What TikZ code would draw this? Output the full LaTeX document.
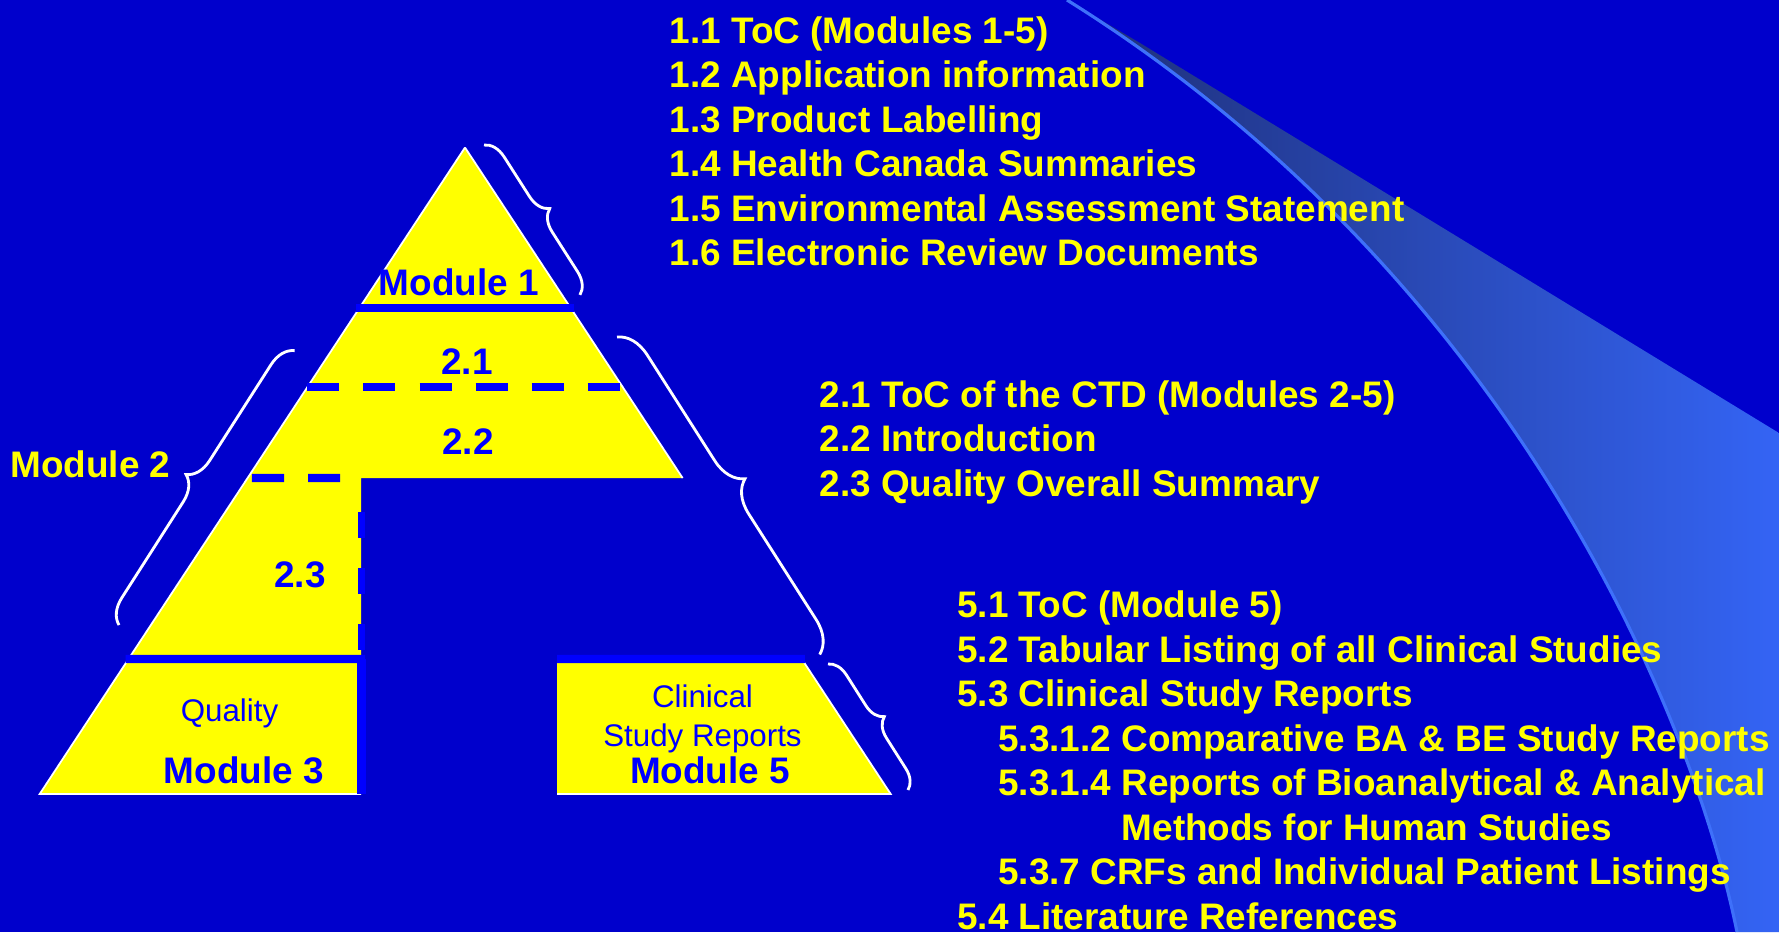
\documentclass[tikz,border=0pt]{standalone}
\usepackage{fontspec}
\setmainfont{Liberation Sans}
\usepackage{tikz}
\usetikzlibrary{calc, decorations.pathreplacing}
\definecolor{slideblue}{RGB}{0,0,204}
\definecolor{inkblue}{RGB}{0,0,255}
\definecolor{hiyellow}{RGB}{255,255,0}
\definecolor{swooshdark}{RGB}{30,46,118}
\definecolor{swooshlight}{RGB}{52,100,245}
\definecolor{swooshedge}{RGB}{62,112,250}
\tikzset{
  layer/.style={fill=hiyellow},
  rim/.style={draw=white, line width=0.5pt},
  divider/.style={draw=inkblue, line width=2.3pt},
  dashdivider/.style={draw=inkblue, line width=2.3pt,
    dash pattern=on 0.32cm off 0.24cm},
  modlabel/.style={text=inkblue, anchor=base, inner sep=0pt,
    font=\fontsize{10.5}{12.6}\selectfont\bfseries},
  sublabel/.style={text=inkblue, anchor=base, inner sep=0pt,
    font=\fontsize{8.9}{10.7}\selectfont},
  item/.style={text=hiyellow, anchor=base west, inner sep=0pt,
    font=\fontsize{10.5}{12.6}\selectfont\bfseries},
  bracket/.style={draw=white, line width=0.8pt, decorate,
    decoration={brace, amplitude=#1, aspect=0.5}}
}
\newcommand{\swooshcurve}{(1067,0) .. controls (1500,270) and (1690,700) .. (1737,932)}

\begin{document}
\begin{tikzpicture}[x=0.01cm, y=-0.01cm]
  \useasboundingbox (0,0) rectangle (1779,932);
  \clip (0,0) rectangle (1779,932);
  \fill[slideblue] (0,0) rectangle (1779,932);
  % swoosh
  \shade[left color=swooshdark, right color=swooshlight]
    \swooshcurve -- (1779,932) -- (1779,433) -- (1140,43) -- cycle;
  \draw[swooshedge, line width=0.9pt] \swooshcurve;

  % pyramid
  \coordinate (apex) at (465,147.5);
  \coordinate (baseL) at (39.7,794);
  \coordinate (baseR) at (890.7,794);
  \coordinate (l1) at ($(apex)!0.2483!(baseL)$);
  \coordinate (r1) at ($(apex)!0.2483!(baseR)$);
  \coordinate (l21) at ($(apex)!0.3705!(baseL)$);
  \coordinate (r21) at ($(apex)!0.3705!(baseR)$);
  \coordinate (l22) at ($(apex)!0.5112!(baseL)$);
  \coordinate (r22) at ($(apex)!0.5112!(baseR)$);
  \coordinate (l3) at ($(apex)!0.7912!(baseL)$);
  \coordinate (r5) at ($(apex)!0.7912!(baseR)$);
  \fill[layer] (apex) -- (r22) -- (361,478) -- (361,794) -- (baseL) -- cycle;
  \fill[layer] (557,659) -- (r5) -- (baseR) -- (557,794) -- cycle;
  \draw[rim] (apex) -- (baseL) -- (361,794);
  \draw[rim] (apex) -- (r22);
  \draw[rim] (r5) -- (baseR) -- (557,794);

  % dividers
  \draw[divider] ($(l1)+(-3,0)$) -- ($(r1)+(3,0)$);
  \draw[divider] ($(l3)+(-3,0)$) -- (365,659);
  \draw[divider] (557,659) -- ($(r5)+(3,0)$);
  \draw[divider] (361.5,659) -- (361.5,794);
  \draw[dashdivider] (l21) -- (r21);
  \draw[dashdivider, dash phase=0.516cm] (l22) -- (361,478);
  \draw[inkblue, line width=2pt, dash pattern=on 0.26cm off 0.3cm,
    dash phase=0.26cm] (361.5,482) -- (361.5,659);

  % labels on the pyramid
  \node[modlabel] (m1) at (459,295) {Module 1};
  \node[modlabel] (s21) at (467,374) {2.1};
  \node[modlabel] (s22) at (468,454) {2.2};
  \node[modlabel] (s23) at (300,587) {2.3};
  \node[sublabel] (qual) at (229.5,721) {Quality};
  \node[modlabel] (m3) at (244,783) {Module 3};
  \node[sublabel] (clin) at (702.5,707) {Clinical};
  \node[sublabel] (csr) at (702.5,746) {Study Reports};
  \node[modlabel] (m5) at (710,783) {Module 5};
  \node[modlabel, text=hiyellow] (m2) at (90.5,477) {Module 2};

  % braces
  \coordinate (b1s) at (484,145);
  \coordinate (b1e) at (580,295);
  \coordinate (b2s) at (119,625);
  \coordinate (b2e) at (295,350);
  \coordinate (b3s) at (617,337);
  \coordinate (b3e) at (820,655);
  \coordinate (b5s) at (828,664);
  \coordinate (b5e) at (908,790);
  \draw[bracket=6pt] (b1s) -- (b1e);
  \draw[bracket=7pt] (b2s) -- (b2e);
  \draw[bracket=9pt] (b3s) -- (b3e);
  \draw[bracket=5.5pt] (b5s) -- (b5e);

  % module 1 contents
  \node[item] (c11) at (669,43) {1.1 ToC (Modules 1-5)};
  \node[item] (c12) at (669,87.5) {1.2 Application information};
  \node[item] (c13) at (669,132) {1.3 Product Labelling};
  \node[item] (c14) at (669,176.5) {1.4 Health Canada Summaries};
  \node[item] (c15) at (669,221) {1.5 Environmental Assessment Statement};
  \node[item] (c16) at (669,265.5) {1.6 Electronic Review Documents};
  % module 2 contents
  \node[item] (c21) at (819,407) {2.1 ToC of the CTD (Modules 2-5)};
  \node[item] (c22) at (819,451.5) {2.2 Introduction};
  \node[item] (c23) at (819,496) {2.3 Quality Overall Summary};
  % module 5 contents
  \node[item] (c51) at (956.5,617) {5.1 ToC (Module 5)};
  \node[item] (c52) at (956.5,662) {5.2 Tabular Listing of all Clinical Studies};
  \node[item] (c53) at (956.5,706) {5.3 Clinical Study Reports};
  \node[item] (c5312) at (997.5,751) {5.3.1.2 Comparative BA \& BE Study Reports};
  \node[item] (c5314) at (997.5,795) {5.3.1.4 Reports of Bioanalytical \& Analytical};
  \node[item] (c5314b) at (1121,840) {Methods for Human Studies};
  \node[item] (c537) at (997.5,884) {5.3.7 CRFs and Individual Patient Listings};
  \node[item] (c54) at (956.5,929) {5.4 Literature References};
\end{tikzpicture}
\end{document}
